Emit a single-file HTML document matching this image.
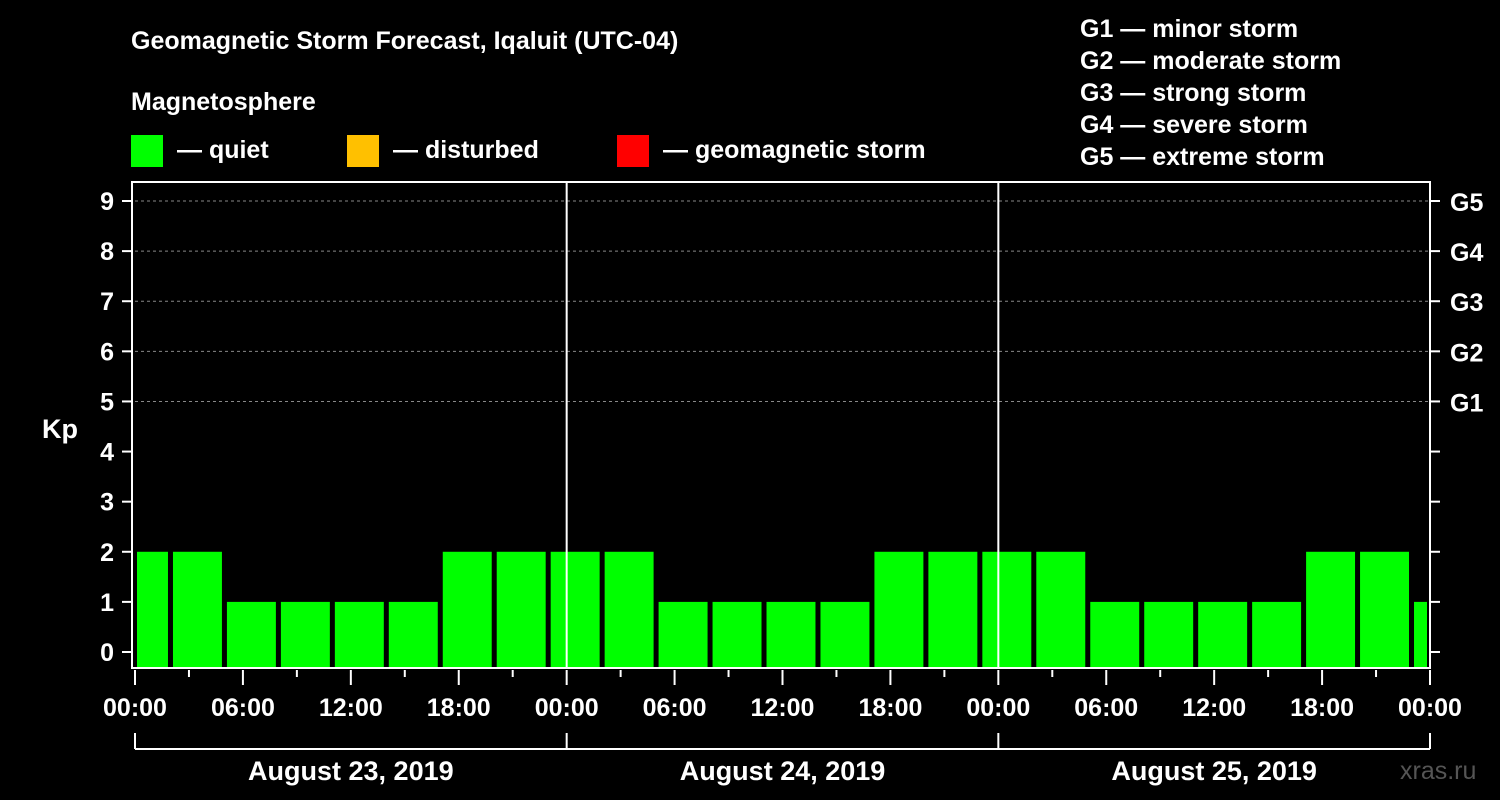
<!DOCTYPE html>
<html><head><meta charset="utf-8"><style>
body{margin:0;background:#000;}
svg{display:block;font-family:"Liberation Sans",Arial,sans-serif;font-weight:bold;}
</style></head><body>
<svg id="c" width="1500" height="800" viewBox="0 0 1500 800">
<rect width="1500" height="800" fill="#000"/>
<text x="131" y="49" fill="#fff" font-size="25">Geomagnetic Storm Forecast, Iqaluit (UTC-04)</text>
<text x="131" y="110" fill="#fff" font-size="25">Magnetosphere</text>
<g><rect x="131" y="135" width="32" height="32" fill="#00ff00"/><text x="177" y="158" fill="#fff" font-size="25">— quiet</text></g>
<g><rect x="347" y="135" width="32" height="32" fill="#ffc000"/><text x="393" y="158" fill="#fff" font-size="25">— disturbed</text></g>
<g><rect x="617" y="135" width="32" height="32" fill="#ff0000"/><text x="663" y="158" fill="#fff" font-size="25">— geomagnetic storm</text></g>
<g fill="#fff" font-size="25">
<text x="1080" y="37">G1 — minor storm</text><text x="1080" y="69">G2 — moderate storm</text><text x="1080" y="101">G3 — strong storm</text><text x="1080" y="133">G4 — severe storm</text><text x="1080" y="165">G5 — extreme storm</text>
</g>
<text x="42" y="438" fill="#fff" font-size="27">Kp</text>
<text x="1400" y="779" fill="#555" font-size="25" font-weight="normal">xras.ru</text>
<g id="plot"></g>
</svg>
<script>
const kpValues=[2,2,1,1,1,1,2,2,2,2,1,1,1,1,2,2,2,2,1,1,1,1,2,2,1];
const barStartHours=[-1,2,5,8,11,14,17,20,23,26,29,32,35,38,41,44,47,50,53,56,59,62,65,68,71];
const yTickLabels=["0","1","2","3","4","5","6","7","8","9"];
const gLabels=["G1","G2","G3","G4","G5"];
const xTickLabels=["00:00","06:00","12:00","18:00","00:00","06:00","12:00","18:00","00:00","06:00","12:00","18:00","00:00"];
const dateLabels=["August 23, 2019","August 24, 2019","August 25, 2019"];
const NS="http://www.w3.org/2000/svg";
const g=document.getElementById('plot');
const L=135,R=1430,T=182,B=668;
const xs=h=>L+h*(R-L)/72;
const ys=k=>652-k*(652-201)/9;
function el(t,a,p){const e=document.createElementNS(NS,t);for(const k in a)e.setAttribute(k,a[k]);(p||g).appendChild(e);return e;}
// grid
for(let k=5;k<=9;k++){const e=el('line',{x1:L,x2:R,y1:ys(k),y2:ys(k),stroke:'#888','stroke-dasharray':'3,3','stroke-width':1});

}
// bars
kpValues.forEach((v,i)=>{let x0=Math.max(xs(barStartHours[i]),L)+2,x1=Math.min(xs(barStartHours[i]+3),R)-3;
if(barStartHours[i]<0)x0=L+2;
const e=el('rect',{x:x0,y:ys(v),width:x1-x0,height:B-ys(v),fill:v>=5?'#ff0000':(v>=4?'#ffc000':'#00ff00')});

});
// day separators
[1,2].forEach(d=>{const e=el('line',{x1:xs(d*24),x2:xs(d*24),y1:T,y2:B,stroke:'#fff','stroke-width':2});

});
// frame
const f=el('rect',{x:132,y:T,width:R-132,height:B-T,fill:'none',stroke:'#fff','stroke-width':2});


// y ticks
yTickLabels.forEach((t,k)=>{const y=ys(k);
el('line',{x1:122,x2:132,y1:y,y2:y,stroke:'#fff','stroke-width':2});
el('line',{x1:R,x2:R+10,y1:y,y2:y,stroke:'#fff','stroke-width':2});
const e=el('text',{x:114,y:y+9,fill:'#fff','font-size':25,'text-anchor':'end'});e.textContent=t;

});
gLabels.forEach((t,i)=>{const e=el('text',{x:1450,y:ys(i+5)+10,fill:'#fff','font-size':25});e.textContent=t;

});
// x ticks
for(let h=0;h<=72;h+=3){const x=xs(h);el('line',{x1:x,x2:x,y1:670,y2:h%6==0?685:677,stroke:'#fff','stroke-width':2});}
xTickLabels.forEach((t,i)=>{const e=el('text',{x:xs(i*6),y:716,fill:'#fff','font-size':25,'text-anchor':'middle'});e.textContent=t;

});
// date bracket
el('line',{x1:L,x2:R,y1:749,y2:749,stroke:'#fff','stroke-width':2});
for(let d=0;d<=3;d++)el('line',{x1:xs(d*24),x2:xs(d*24),y1:733,y2:749,stroke:'#fff','stroke-width':2});
dateLabels.forEach((t,i)=>{const e=el('text',{x:xs(i*24+12),y:780,fill:'#fff','font-size':27,'text-anchor':'middle'});e.textContent=t;

});
</script>
</body></html>
